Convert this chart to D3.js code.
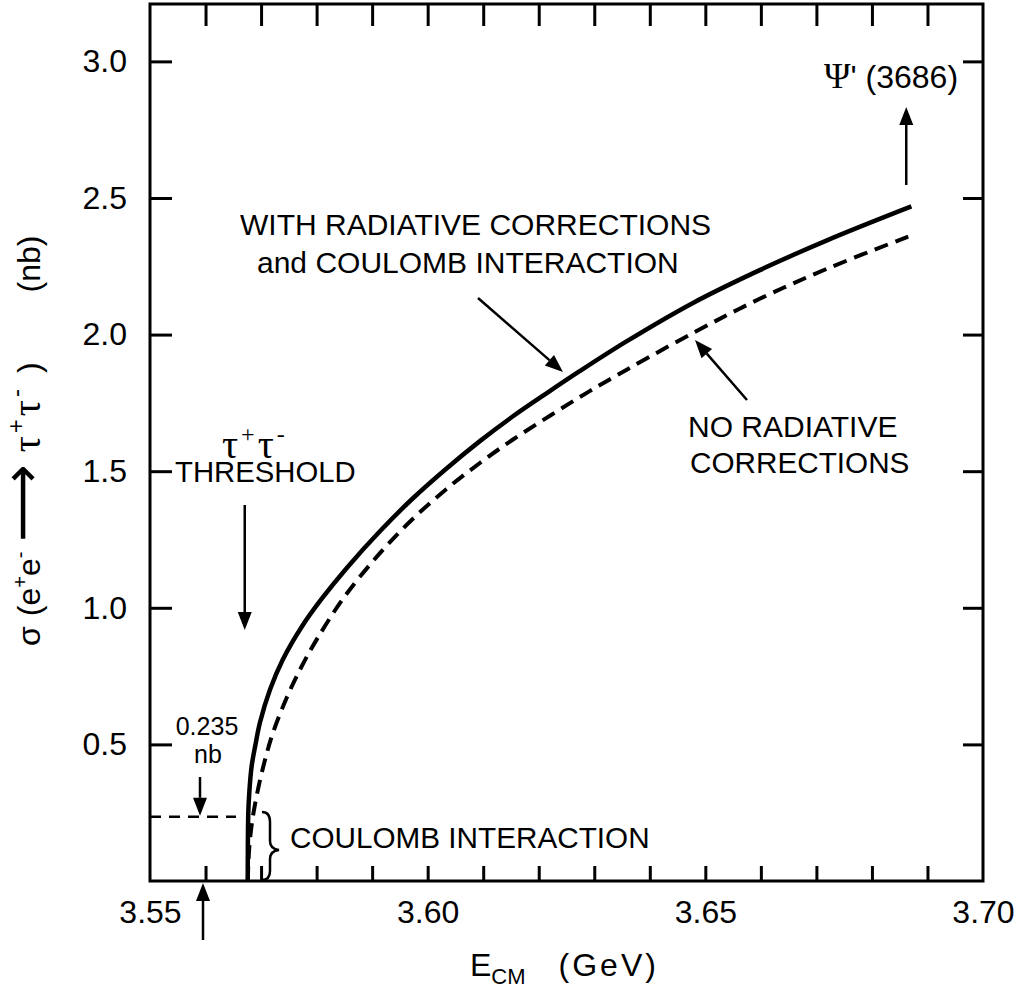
<!DOCTYPE html>
<html>
<head>
<meta charset="utf-8">
<script src="https://d3js.org/d3.v7.min.js"></script>
<style>
  body { margin: 0; background: #fff; }
  svg { display: block; }
  text { font-family: "Liberation Sans", Arial, "DejaVu Sans", sans-serif; fill: #000; }
  .serif { font-family: "Liberation Serif", "DejaVu Serif", serif; }
</style>
</head>
<body>
<div id="chart"></div>
<script>

// values
var xTickLabels = [3.55, 3.60, 3.65, 3.70];
var xMinorTicks = [3.56, 3.57, 3.58, 3.59, 3.60, 3.61, 3.62, 3.63, 3.64, 3.65, 3.66, 3.67, 3.68, 3.69];
var yTickLabels = [0.5, 1.0, 1.5, 2.0, 2.5, 3.0];

// with radiative corrections and coulomb interaction (solid)
var solidE = [3.5676, 3.5677, 3.5679, 3.5683, 3.5690, 3.5698, 3.5716, 3.5739, 3.5773, 3.5810,
              3.5854, 3.5914, 3.5973, 3.6034, 3.6094, 3.6153, 3.6214, 3.6273, 3.6358, 3.6477,
              3.6597, 3.6718, 3.6871];
var solidSigma = [0, 0.25, 0.33, 0.42, 0.50, 0.58, 0.70, 0.81, 0.93, 1.035,
                  1.145, 1.28, 1.40, 1.51, 1.61, 1.70, 1.785, 1.865, 1.975, 2.115,
                  2.235, 2.344, 2.469];

// no radiative corrections (dashed)
var dashE = [3.5676, 3.5678, 3.5681, 3.5686, 3.5696, 3.5708, 3.5721, 3.5746, 3.5773, 3.5802,
             3.5850, 3.5914, 3.5973, 3.6034, 3.6094, 3.6153, 3.6214, 3.6273, 3.6327, 3.6477,
             3.6597, 3.6718, 3.6867];
var dashSigma = [0, 0.10, 0.17, 0.245, 0.35, 0.45, 0.54, 0.67, 0.785, 0.89,
                 1.04, 1.20, 1.325, 1.435, 1.53, 1.615, 1.695, 1.77, 1.835, 2.005,
                 2.13, 2.24, 2.36];

var coulombSigma = 0.235;
var thresholdE = 3.5676;
var psiPrimeE = 3.686;

var W = 1016, H = 991;
var plotL = 150, plotR = 983, plotT = 4, plotB = 881;

var svg = d3.select('#chart').append('svg')
    .attr('width', W)
    .attr('height', H);

svg.append('rect').attr('width', W).attr('height', H).attr('fill', '#fff');

var x = d3.scaleLinear().domain([3.55, 3.70]).range([plotL, plotR]);
var y = d3.scaleLinear().domain([0, 3.21]).range([plotB, plotT]);

// axes: ticks point inward
var gl = svg.append('g').attr('transform', 'translate(' + plotL + ',0)')
    .call(d3.axisLeft(y).tickValues(yTickLabels).tickSize(-22).tickPadding(23)
      .tickFormat(d3.format('.1f')));
var gr = svg.append('g').attr('transform', 'translate(' + plotR + ',0)')
    .call(d3.axisRight(y).tickValues(yTickLabels).tickSize(-20).tickFormat(''));
var gb = svg.append('g').attr('transform', 'translate(0,' + plotB + ')')
    .call(d3.axisBottom(x).tickValues(xMinorTicks).tickSize(-15).tickFormat(''));
var gbl = svg.append('g').attr('transform', 'translate(0,' + plotB + ')')
    .call(d3.axisBottom(x).tickValues(xTickLabels).tickSize(0).tickPadding(19)
      .tickFormat(d3.format('.2f')));
var gt = svg.append('g').attr('transform', 'translate(0,' + plotT + ')')
    .call(d3.axisTop(x).tickValues(xMinorTicks).tickSize(-22).tickFormat(''));

[gl, gr, gb, gbl, gt].forEach(function(g) {
  g.select('.domain').remove();
  g.selectAll('line').attr('stroke', '#000').attr('stroke-width', 3);
  g.selectAll('text').attr('font-size', 32).attr('fill', '#000')
    .attr('font-family', '"Liberation Sans", Arial, sans-serif');
});

svg.append('rect')
    .attr('x', plotL).attr('y', plotT)
    .attr('width', plotR - plotL).attr('height', plotB - plotT)
    .attr('fill', 'none').attr('stroke', '#000').attr('stroke-width', 3);

// curves
var line = d3.line()
    .x(function(d) { return x(d[0]); })
    .y(function(d) { return y(d[1]); })
    .curve(d3.curveCatmullRom.alpha(0.5));

svg.append('path')
    .datum(d3.zip(dashE, dashSigma))
    .attr('d', line)
    .attr('fill', 'none').attr('stroke', '#000')
    .attr('stroke-width', 4).attr('stroke-dasharray', '14,8');

svg.append('path')
    .datum(d3.zip(solidE, solidSigma))
    .attr('d', line)
    .attr('fill', 'none').attr('stroke', '#000')
    .attr('stroke-width', 4.5);

// coulomb level at threshold
svg.append('line')
    .attr('x1', plotL).attr('x2', 236)
    .attr('y1', y(coulombSigma)).attr('y2', y(coulombSigma))
    .attr('stroke', '#000').attr('stroke-width', 2.5).attr('stroke-dasharray', '11,8');

function arrow(x1, y1, x2, y2) {
  var a = Math.atan2(y2 - y1, x2 - x1), len = 18, hw = 7;
  var bx = x2 - len * Math.cos(a), by = y2 - len * Math.sin(a);
  svg.append('line')
      .attr('x1', x1).attr('y1', y1).attr('x2', bx).attr('y2', by)
      .attr('stroke', '#000').attr('stroke-width', 2.5);
  svg.append('path')
      .attr('d', 'M' + x2 + ',' + y2 +
                 'L' + (bx + hw * Math.sin(a)) + ',' + (by - hw * Math.cos(a)) +
                 'L' + (bx - hw * Math.sin(a)) + ',' + (by + hw * Math.cos(a)) + 'Z')
      .attr('fill', '#000');
}

arrow(x(thresholdE) - 3, 505, x(thresholdE) - 3, 630);
arrow(200, 777, 200, y(coulombSigma) - 1);
arrow(203, 940, 203, plotB + 2);
arrow(478, 298, 563, 372);
arrow(747, 400, 695, 340);
arrow(x(psiPrimeE) + 1, 185, x(psiPrimeE) + 1, 107);

// brace for coulomb interaction
svg.append('path')
    .attr('d', 'M262,812 Q270,812 270,822 L270,841 Q270,849 279,850 Q270,851 270,859 L270,871 Q270,880 262,880')
    .attr('fill', 'none').attr('stroke', '#000').attr('stroke-width', 2.5);

// labels
function label(tx, ty, str, size, anchor) {
  return svg.append('text')
      .attr('x', tx).attr('y', ty)
      .attr('font-size', size)
      .attr('text-anchor', anchor || 'start')
      .text(str);
}

label(207, 735, '0.235', 25, 'middle');
label(208, 763, 'nb', 25, 'middle');
label(290, 848, 'COULOMB INTERACTION', 29.7);
label(175, 482, 'THRESHOLD', 29.3);
label(240, 235, 'WITH RADIATIVE CORRECTIONS', 30);
label(257, 273, 'and COULOMB INTERACTION', 30);
label(688, 437, 'NO RADIATIVE', 30);
label(690, 473, 'CORRECTIONS', 29.7);

var tau = svg.append('text').attr('x', 222).attr('y', 458).attr('font-size', 40).attr('class', 'serif');
tau.append('tspan').text('τ');
tau.append('tspan').attr('dy', -16).attr('dx', 3).attr('font-size', 24).text('+');
tau.append('tspan').attr('dy', 16).attr('dx', 3).text('τ');
tau.append('tspan').attr('dy', -16).attr('dx', 3).attr('font-size', 24).text('-');

var psi = svg.append('text').attr('x', 824).attr('y', 88).attr('font-size', 36);
psi.append('tspan').attr('class', 'serif').text('Ψ');
psi.append('tspan').attr('font-size', 32).text('\' (3686)');

// axis titles
var xt = svg.append('text').attr('x', 470).attr('y', 976).attr('font-size', 32);
xt.append('tspan').text('E');
xt.append('tspan').attr('dy', 8).attr('font-size', 22).text('CM');
xt.append('tspan').attr('dy', -8).attr('dx', 33).attr('letter-spacing', 3).text('(GeV)');

var yt = svg.append('text')
    .attr('transform', 'translate(40,646) rotate(-90)')
    .attr('font-size', 32);
yt.append('tspan').text('σ');
yt.append('tspan').attr('dx', 10).text('(e');
yt.append('tspan').attr('dy', -13).attr('font-size', 20).text('+');
yt.append('tspan').attr('dy', 13).text('e');
yt.append('tspan').attr('dy', -13).attr('font-size', 20).text('-');
yt.append('tspan').attr('dy', 13).attr('dx', 10).attr('font-size', 54)
    .attr('font-family', '"DejaVu Sans", sans-serif').text('⟶');
yt.append('tspan').attr('dx', 12).attr('class', 'serif').attr('font-size', 40).text('τ');
yt.append('tspan').attr('dy', -16).attr('dx', 3).attr('font-size', 24).text('+');
yt.append('tspan').attr('dy', 16).attr('dx', 3).attr('class', 'serif').attr('font-size', 40).text('τ');
yt.append('tspan').attr('dy', -16).attr('dx', 3).attr('font-size', 24).text('-');
yt.append('tspan').attr('dy', 16).attr('dx', 16).text(')');
yt.append('tspan').attr('dx', 70).text('(nb)');

</script>
</body>
</html>
